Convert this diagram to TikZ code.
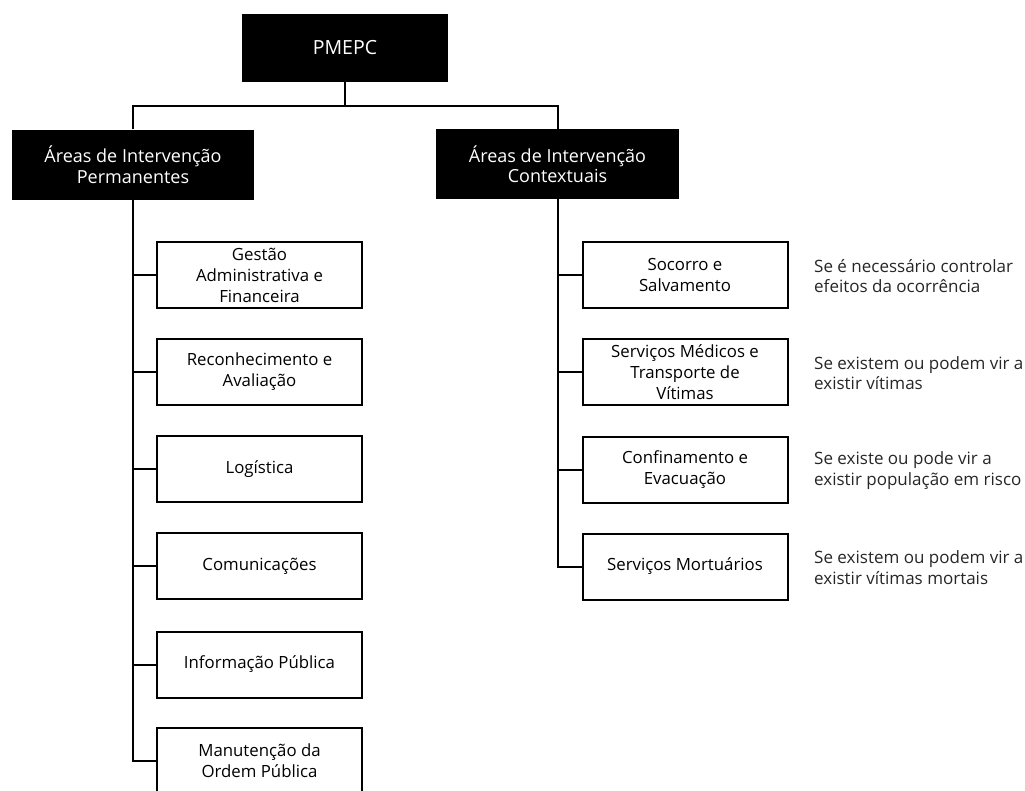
\documentclass[tikz,border=0pt]{standalone}
\usepackage{fontspec}
\setmainfont{Open Sans}
\usetikzlibrary{calc}
\begin{document}
\begin{tikzpicture}[x=1pt,y=-1pt,
  every node/.style={inner sep=0pt},
  headbox/.style={fill=black, text=white, align=center, minimum height=70pt,
                  font=\fontsize{18}{20.5}\selectfont},
  areabox/.style={draw=black, line width=2pt, fill=white, align=center,
                  minimum width=205pt, minimum height=66pt,
                  font=\fontsize{16.8}{21}\selectfont},
  note/.style={anchor=west, align=left, text=black!85,
               font=\fontsize{17}{20.5}\selectfont},
  link/.style={line width=2pt, draw=black}]
  \useasboundingbox (0,0) rectangle (1025,790);
  \clip (0,0) rectangle (1025,790);

  % top level
  \node[headbox, minimum width=206pt, minimum height=68pt,
        font=\fontsize{19.5}{22}\selectfont] (pm) at (345,48) {PMEPC};
  \node[headbox, minimum width=242pt] (perm) at (133,164.5) {Áreas de Intervenção\\Permanentes};
  \node[headbox, minimum width=243pt] (cont) at (557.5,164) {Áreas de Intervenção\\Contextuais};

  % permanent areas
  \node[areabox] (g1) at (259.5,275)   {Gestão\\Administrativa e\\Financeira};
  \node[areabox] (g2) at (259.5,372)   {Reconhecimento e\\Avaliação};
  \node[areabox] (g3) at (259.5,469)   {Logística};
  \node[areabox] (g4) at (259.5,566)   {Comunicações};
  \node[areabox] (g5) at (259.5,664.5) {Informação Pública};
  \node[areabox] (g6) at (259.5,761)   {Manutenção da\\Ordem Pública};

  % contextual areas
  \node[areabox] (c1) at (685,275)   {Socorro e\\Salvamento};
  \node[areabox] (c2) at (685,372)   {Serviços Médicos e\\Transporte de\\Vítimas};
  \node[areabox] (c3) at (685,469.5) {Confinamento e\\Evacuação};
  \node[areabox] (c4) at (685,566.5) {Serviços Mortuários};

  % activation conditions
  \node[note] (n1) at (814,276)   {Se é necessário controlar\\efeitos da ocorrência};
  \node[note] (n2) at (814,373)   {Se existem ou podem vir a\\existir vítimas};
  \node[note] (n3) at (814,470.5) {Se existe ou pode vir a\\existir população em risco};
  \node[note] (n4) at (814,567.5) {Se existem ou podem vir a\\existir vítimas mortais};

  % connectors
  \coordinate (split) at ($(pm.south)+(0,24)$);
  \draw[link] (pm.south) -- (split);
  \draw[link] (perm.north) |- (split) -| (cont.north);

  \draw[link] (perm.south) -- (perm.south |- g6.west) -- (g6.west);
  \foreach \n in {g1,g2,g3,g4,g5}
    \draw[link] (perm.south |- \n.west) -- (\n.west);

  \draw[link] (cont.south) -- (cont.south |- c4.west) -- (c4.west);
  \foreach \n in {c1,c2,c3}
    \draw[link] (cont.south |- \n.west) -- (\n.west);
\end{tikzpicture}
\end{document}
